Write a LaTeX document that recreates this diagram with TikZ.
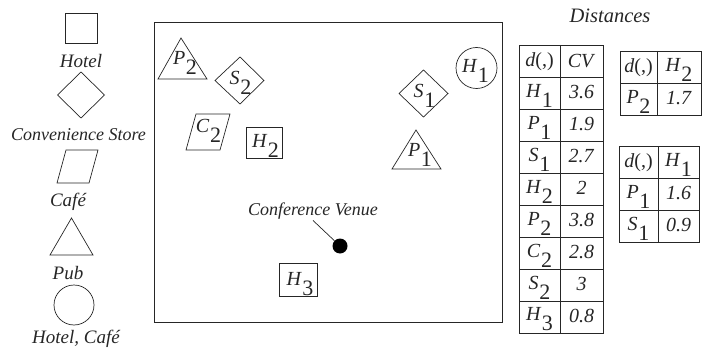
\documentclass[tikz,border=0pt]{standalone}
\usepackage{fontspec}
\setmainfont{Liberation Serif}
\newcommand\lab[2]{\textit{#1}\kern0.03em\raisebox{-0.5em}{\fontsize{22}{22}\selectfont #2}}
\begin{document}
\begin{tikzpicture}[x=1pt,y=-1pt,
  shp/.style={draw=black!85,line width=0.7pt},
  txt/.style={font=\fontsize{19}{21}\selectfont\itshape,inner sep=1pt,text=black!85},
  sym/.style={font=\fontsize{20}{22}\selectfont,inner sep=0pt,text=black!85},
  cell/.style={font=\fontsize{20}{22}\selectfont,inner sep=0pt,text=black!85}]
\useasboundingbox (0,0) rectangle (709,350);
% legend
\draw[shp] (65,13) rectangle (97,43);
\node[txt] (lhotel) at (81,61) {Hotel};
\draw[shp] (57.5,95) -- (81,72) -- (104.5,95) -- (81,118) -- cycle;
\node[txt,font=\fontsize{18}{20}\selectfont\itshape] (lstore) at (78.5,135) {Convenience Store};
\draw[shp] (66,150) -- (98,150) -- (89,183) -- (57,183) -- cycle;
\node[txt] (lcafe) at (68,202) {Café};
\draw[shp] (50,255) -- (93,255) -- (71.5,218) -- cycle;
\node[txt] (lpub) at (68,273) {Pub};
\draw[shp] (74,305) circle (20);
\node[txt] (lhc) at (76,339) {Hotel, Café};
% map
\draw[shp] (154,22) rectangle (502,322);
\draw[shp] (158,79) -- (207,79) -- (181,38) -- cycle;
\node[sym] (P2) at (185,62.5) {\lab{P}{2}};
\draw[shp] (215,80.5) -- (240,57) -- (264,80.5) -- (240,104) -- cycle;
\node[sym] (S2) at (240.5,82.5) {\lab{S}{2}};
\draw[shp] (196,114) -- (230,114) -- (220,150) -- (186,150) -- cycle;
\node[sym] (C2) at (208.5,131) {\lab{C}{2}};
\draw[shp] (246,127) rectangle (282,158);
\node[sym] (H2) at (265.5,145.5) {\lab{H}{2}};
\draw[shp] (399,93.5) -- (423.5,70) -- (448,93.5) -- (423.5,117) -- cycle;
\node[sym] (S1) at (424.5,95.5) {\lab{S}{1}};
\draw[shp] (476.5,68) circle (20.5);
\node[sym] (H1) at (475.5,70.5) {\lab{H}{1}};
\draw[shp] (392,169) -- (441,169) -- (416,130) -- cycle;
\node[sym] (P1) at (420,155) {\lab{P}{1}};
\draw[shp] (279,263) rectangle (317,296);
\node[sym] (H3) at (300,284.5) {\lab{H}{3}};
\node[txt,font=\fontsize{18}{20}\selectfont\itshape] (cv) at (313,211) {Conference Venue};
\node[circle,fill=black,inner sep=0pt,minimum size=15pt] (dot) at (340,246) {};
\draw[shp] (cv.south) -- (dot);
% distances
\node[txt,font=\fontsize{20.5}{22}\selectfont\itshape] (dist) at (610,16) {Distances};
\draw[shp] (519,45) rectangle (603,333);
\draw[shp] (560,45) -- (560,333);
\foreach \i in {1,...,8} \draw[shp] (519,45+32*\i) -- (603,45+32*\i);
\node[cell] (t00) at (539.5,62) {\textit{d}(,)};
\node[cell] (t01) at (581.5,61) {\textit{CV}};
\foreach \r/\a/\b/\v in {1/H/1/3.6,2/P/1/1.9,3/S/1/2.7,4/H/2/2,5/P/2/3.8,6/C/2/2.8,7/S/2/3,8/H/3/0.8}{
  \node[cell] (ta\r) at (539.5,63.5+32*\r) {\lab{\a}{\b}};
  \node[cell] (tb\r) at (581.5,60+32*\r) {\textit{\v}};
}
\draw[shp] (620,51) rectangle (701,115);
\draw[shp] (657,51) -- (657,115);
\draw[shp] (620,83) -- (701,83);
\node[cell] (u00) at (638.5,68) {\textit{d}(,)};
\node[cell] (u01) at (679,69.5) {\lab{H}{2}};
\node[cell] (u10) at (638.5,101.5) {\lab{P}{2}};
\node[cell] (u11) at (679,98) {\textit{1.7}};
\draw[shp] (619,146) rectangle (699,242);
\draw[shp] (658,146) -- (658,242);
\draw[shp] (619,178) -- (699,178);
\draw[shp] (619,210) -- (699,210);
\node[cell] (v00) at (638.5,163) {\textit{d}(,)};
\node[cell] (v01) at (678.5,164.5) {\lab{H}{1}};
\node[cell] (v10) at (638.5,196.5) {\lab{P}{1}};
\node[cell] (v11) at (678.5,193) {\textit{1.6}};
\node[cell] (v20) at (638.5,228.5) {\lab{S}{1}};
\node[cell] (v21) at (678.5,225) {\textit{0.9}};
\end{tikzpicture}
\end{document}
